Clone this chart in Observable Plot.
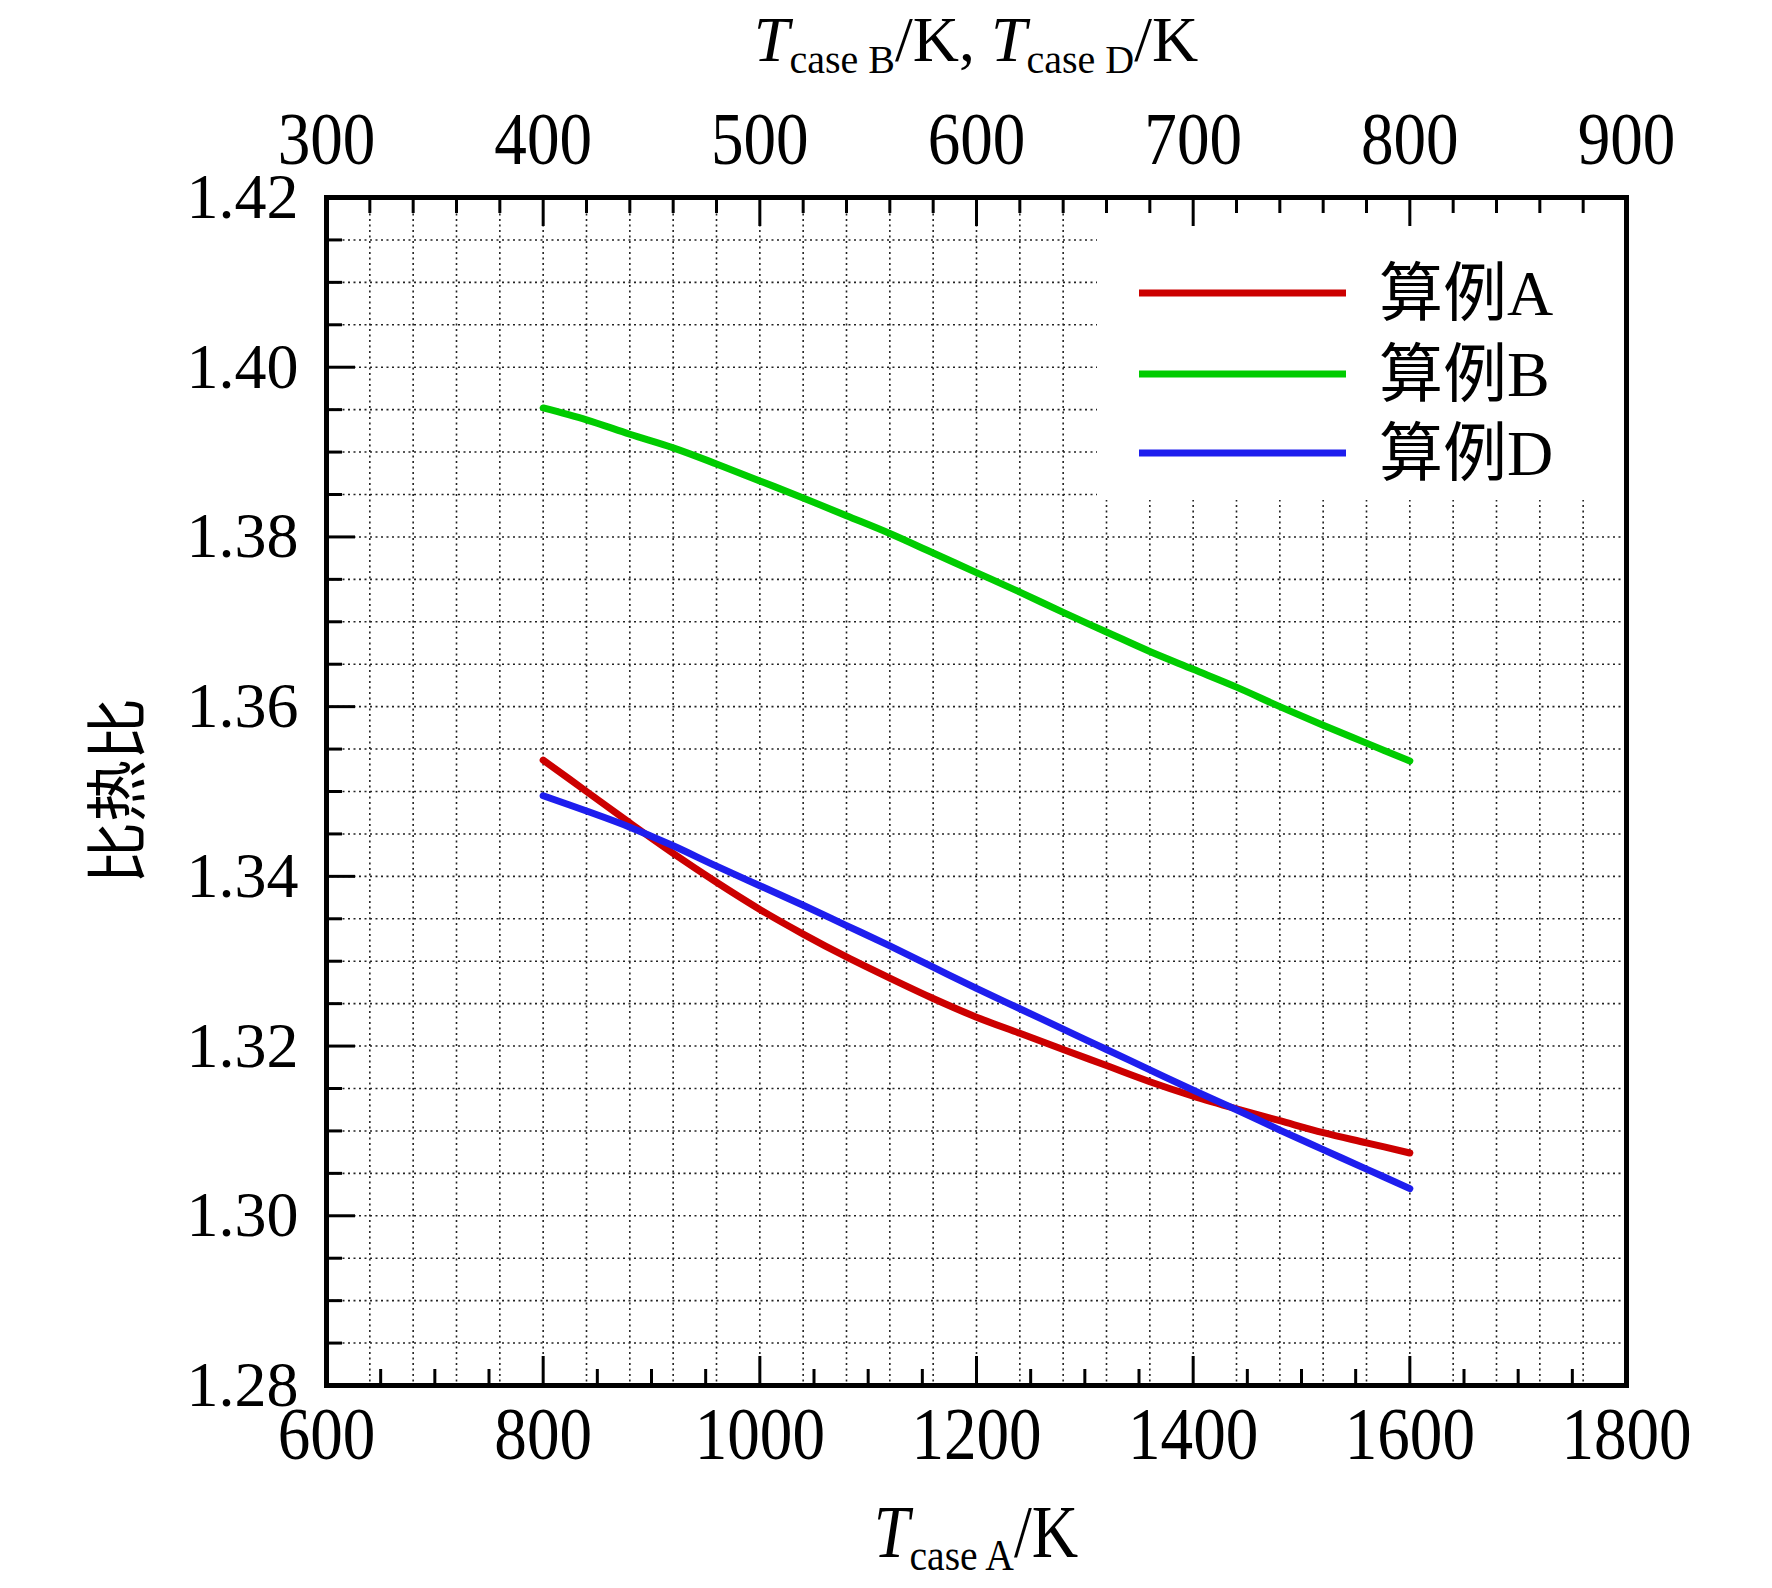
<!DOCTYPE html>
<html><head><meta charset="utf-8">
<script src="https://cdn.jsdelivr.net/npm/d3@7"></script>
<script src="https://cdn.jsdelivr.net/npm/@observablehq/plot@0.6"></script>
<style>
body{margin:0;background:#fff}
#chart svg{font-family:"Liberation Serif","Noto Sans CJK SC",serif}
</style>
</head><body><div id="chart"></div>
<script>
// Case A: temperature on bottom axis (K)
const tempA  = [800, 840, 880, 920, 960, 1000, 1040, 1080, 1120, 1160, 1200, 1240, 1280, 1320, 1360, 1400, 1440, 1480, 1520, 1560, 1600];
const gammaA = [1.3537, 1.3500, 1.3463, 1.3427, 1.3393, 1.3361, 1.3332, 1.3305, 1.3280, 1.3256, 1.3234, 1.3215, 1.3196, 1.3177, 1.3158, 1.3141, 1.3126, 1.3112, 1.3098, 1.3086, 1.3074];
// Case B and D: temperature on top axis (K)
const tempB  = [400, 420, 440, 460, 480, 500, 520, 540, 560, 580, 600, 620, 640, 660, 680, 700, 720, 740, 760, 780, 800];
const gammaB = [1.3952, 1.3938, 1.3921, 1.3905, 1.3886, 1.3866, 1.3846, 1.3825, 1.3804, 1.3781, 1.3758, 1.3735, 1.3711, 1.3688, 1.3665, 1.3644, 1.3623, 1.3600, 1.3578, 1.3557, 1.3536];
const tempD  = [400, 420, 440, 460, 480, 500, 520, 540, 560, 580, 600, 620, 640, 660, 680, 700, 720, 740, 760, 780, 800];
const gammaD = [1.3495, 1.3477, 1.3458, 1.3436, 1.3412, 1.3389, 1.3366, 1.3342, 1.3318, 1.3293, 1.3268, 1.3244, 1.3220, 1.3196, 1.3172, 1.3148, 1.3125, 1.3101, 1.3078, 1.3055, 1.3032];

const seriesNames  = ["算例A", "算例B", "算例D"];
const seriesColors = ["#cc0000", "#00cc00", "#1e1eee"];

const bottomTickLabels = [600, 800, 1000, 1200, 1400, 1600, 1800];
const topTickLabels    = [300, 400, 500, 600, 700, 800, 900];
const yTickLabels      = [1.28, 1.30, 1.32, 1.34, 1.36, 1.38, 1.40, 1.42];

const yLabel = "比热比";

// top axis (cases B, D) maps onto bottom axis scale: T_A = 2 * T_top
const topToBottom = t => t * 2;

const dataA = tempA.map((t, i) => ({t: t, g: gammaA[i]}));
const dataB = tempB.map((t, i) => ({t: topToBottom(t), g: gammaB[i]}));
const dataD = tempD.map((t, i) => ({t: topToBottom(t), g: gammaD[i]}));

const W = 1772, H = 1588;
const mL = 326, mR = 146, mT = 197, mB = 203;
const fW = W - mL - mR, fH = H - mT - mB;

// tick / grid positions
const gridX = d3.range(1, 30).map(i => topToBottom(300 + 20 * i));
const gridY = d3.range(1, 28).map(i => +(1.28 + 0.005 * i).toFixed(3));
const bottomMajor = [800, 1000, 1200, 1400, 1600];
const bottomMinor = d3.range(650, 1800, 50).filter(v => !bottomMajor.includes(v));
const topMajor = [400, 500, 600, 700, 800].map(topToBottom);
const topMinor = gridX.filter(v => !topMajor.includes(v));
const leftMajor = [1.30, 1.32, 1.34, 1.36, 1.38, 1.40];
const leftMinor = gridY.filter(v => !leftMajor.some(m => Math.abs(m - v) < 1e-6));

const gridStyle = {stroke: "#222", strokeOpacity: 1, strokeWidth: 1.6, strokeDasharray: "2,3.5"};
const minorLen = 16, majorLen = 29;
const lineW = 7;

const fontSize = 64;
const tallSize = 74, squeeze = 0.88;

const plot = Plot.plot({
  width: W, height: H,
  marginLeft: mL, marginRight: mR, marginTop: mT, marginBottom: mB,
  x: {domain: [600, 1800], axis: null},
  y: {domain: [1.28, 1.42], axis: null},
  style: {background: "white", fontFamily: '"Liberation Serif","Noto Sans CJK SC",serif', overflow: "visible"},
  marks: [
    Plot.ruleX(gridX, {x: d => d, ...gridStyle}),
    Plot.ruleY(gridY, {y: d => d, ...gridStyle}),
    Plot.line(dataA, {x: "t", y: "g", stroke: seriesColors[0], strokeWidth: lineW, curve: "catmull-rom"}),
    Plot.line(dataB, {x: "t", y: "g", stroke: seriesColors[1], strokeWidth: lineW, curve: "catmull-rom"}),
    Plot.line(dataD, {x: "t", y: "g", stroke: seriesColors[2], strokeWidth: lineW, curve: "catmull-rom"}),
    // inward ticks
    Plot.ruleX(bottomMinor, {x: d => d, insetTop: fH - minorLen, stroke: "black", strokeWidth: 3}),
    Plot.ruleX(bottomMajor, {x: d => d, insetTop: fH - majorLen, stroke: "black", strokeWidth: 3}),
    Plot.ruleX(topMinor, {x: d => d, insetBottom: fH - minorLen, stroke: "black", strokeWidth: 3}),
    Plot.ruleX(topMajor, {x: d => d, insetBottom: fH - majorLen, stroke: "black", strokeWidth: 3}),
    Plot.ruleY(leftMinor, {y: d => d, insetRight: fW - minorLen, stroke: "black", strokeWidth: 3}),
    Plot.ruleY(leftMajor, {y: d => d, insetRight: fW - majorLen, stroke: "black", strokeWidth: 3}),
    Plot.frame({stroke: "black", strokeWidth: 5}),
    // tick labels
    Plot.text(bottomTickLabels, {x: d => d, text: d => String(d), frameAnchor: "bottom", lineAnchor: "top", dy: 21, fontSize: tallSize, fill: "black"}),
    Plot.text(topTickLabels, {x: d => topToBottom(d), text: d => String(d), frameAnchor: "top", lineAnchor: "bottom", dy: -34, fontSize: tallSize, fill: "black"}),
    Plot.text(yTickLabels, {y: d => d, text: d => d.toFixed(2), frameAnchor: "left", textAnchor: "end", dx: -28, fontSize, fill: "black"})
  ]
});

document.getElementById("chart").appendChild(plot);
const svg = d3.select(plot);

// narrow-and-tall look of the top / bottom tick labels
function condense(g, sx) {
  d3.select(g).selectAll("text").each(function() {
    const t = d3.select(this);
    const tr = t.attr("transform");
    if (tr) t.attr("transform", tr + ` scale(${sx},1)`);
    else {
      const x = +t.attr("x") || 0, y = +t.attr("y") || 0;
      t.attr("x", null).attr("y", null).attr("transform", `translate(${x},${y}) scale(${sx},1)`);
    }
  });
}
const textGroups = svg.selectAll("g[aria-label='text']").nodes();
condense(textGroups[0], squeeze);
condense(textGroups[1], squeeze);

// white legend box hiding grid, inserted beneath the lines
const boxLeft = 1097, boxBottom = 500;
svg.insert("rect", "g[aria-label='line']")
  .attr("x", boxLeft).attr("y", mT + 2).attr("width", W - mR - boxLeft - 2).attr("height", boxBottom - mT - 2)
  .attr("fill", "white");

// legend entries
const legendY = [293, 374, 453];
const legend = svg.append("g").attr("text-anchor", "start");
seriesNames.forEach((name, i) => {
  legend.append("line")
    .attr("x1", 1139).attr("x2", 1346).attr("y1", legendY[i]).attr("y2", legendY[i])
    .attr("stroke", seriesColors[i]).attr("stroke-width", 7);
  legend.append("text")
    .attr("x", 1379).attr("y", legendY[i]).attr("dy", "0.35em")
    .attr("text-anchor", "start")
    .attr("font-size", 64).attr("fill", "black")
    .text(name);
});

// axis titles with subscripts
function axisTitle(x, y, size, sx, subSize, shift, parts) {
  const g = svg.append("g").attr("transform", `translate(${x},${y}) scale(${sx},1)`);
  const t = g.append("text").attr("x", 0).attr("y", 0).attr("text-anchor", "middle")
    .attr("font-size", size).attr("fill", "black");
  parts.forEach(p => {
    const ts = t.append("tspan").text(p.s);
    if (p.it) ts.attr("font-style", "italic");
    if (p.sub) ts.attr("font-size", subSize).attr("dy", shift);
    if (p.up) ts.attr("dy", -shift);
  });
}
axisTitle((mL + W - mR) / 2, 61, 64, 1, 40, 12, [
  {s: "T", it: true}, {s: "case B", sub: true}, {s: "/K, ", up: true},
  {s: "T", it: true}, {s: "case D", sub: true}, {s: "/K", up: true}
]);
axisTitle((mL + W - mR) / 2, 1557, 73, squeeze, 45, 13, [
  {s: "T", it: true}, {s: "case A", sub: true}, {s: "/K", up: true}
]);

svg.append("text")
  .attr("transform", `translate(118,${(mT + H - mB) / 2}) rotate(-90)`)
  .attr("text-anchor", "middle").attr("dy", "0.35em")
  .attr("font-size", 62).attr("fill", "black")
  .text(yLabel);
</script>
</body></html>
